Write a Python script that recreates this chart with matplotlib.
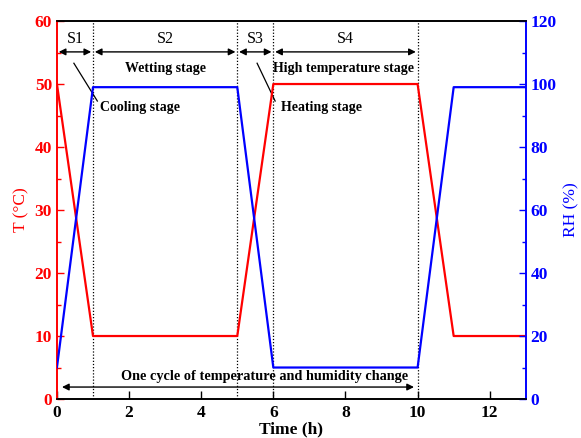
import matplotlib
matplotlib.use("Agg")
import matplotlib.pyplot as plt

time_h = [0, 1, 5, 6, 10, 11, 13]
temp_c = [50, 10, 10, 50, 50, 10, 10]
rh_pct = [10, 99, 99, 10, 10, 99, 99]
stage_bounds = [1, 5, 6, 10]
stage_names = ["S1", "S2", "S3", "S4"]
stage_edges = [0, 1, 5, 6, 10]

plt.rcParams['font.family'] = ['Liberation Serif', 'DejaVu Serif']

fig = plt.figure(figsize=(5.81, 4.38), dpi=100)
ax = fig.add_axes([0.098, 0.089, 0.807, 0.863])
ax2 = ax.twinx()

red = '#ff0000'
blue = '#0000ff'

ax.plot(time_h, temp_c, color=red, lw=1.6, zorder=3)
ax2.plot(time_h, rh_pct, color=blue, lw=1.6, zorder=3)

ax.set_xlim(0, 13)
ax.set_ylim(0, 60)
ax2.set_ylim(0, 120)

for xb in stage_bounds:
    ax.axvline(xb, color='black', ls=(0, (1, 1.5)), lw=0.9, zorder=2)

ax.set_xticks([0, 2, 4, 6, 8, 10, 12])
ax.set_yticks([0, 10, 20, 30, 40, 50, 60])
ax.set_yticks([5, 15, 25, 35, 45, 55], minor=True)
ax2.set_yticks([0, 20, 40, 60, 80, 100, 120])
ax2.set_yticks([10, 30, 50, 70, 90, 110], minor=True)

ax.tick_params(axis='x', direction='in', length=5.5, width=1, labelsize=12.5, pad=4.5)
ax.tick_params(axis='y', which='major', direction='in', length=5, width=1, colors=red, labelsize=12.5)
ax.tick_params(axis='y', which='minor', direction='in', length=3, width=1, colors=red)
ax2.tick_params(axis='y', which='major', direction='in', length=5, width=1, colors=blue, labelsize=12.5)
ax2.tick_params(axis='y', which='minor', direction='in', length=3, width=1, colors=blue)
for lab in ax.get_xticklabels() + ax.get_yticklabels() + ax2.get_yticklabels():
    lab.set_fontweight('bold')

ax2.spines['left'].set_color(red)
ax2.spines['right'].set_color(blue)
ax.spines['left'].set_color(red)
ax.spines['right'].set_color(blue)
for a in (ax, ax2):
    for s in a.spines.values():
        s.set_linewidth(1.2)

ax.set_xlabel('Time (h)', fontsize=12.5, fontweight='bold', labelpad=0)
ax.set_ylabel('T (°C)', fontsize=12.5, color=red, labelpad=4)
ax2.set_ylabel('RH (%)', fontsize=12.5, color=blue, labelpad=5)

# stage arrows
arrow_y = 55.1
for i, name in enumerate(stage_names):
    x0, x1 = stage_edges[i], stage_edges[i + 1]
    ax.annotate('', xy=(x1 - 0.05, arrow_y), xytext=(x0 + 0.05, arrow_y),
                arrowprops=dict(arrowstyle='<|-|>', color='black', lw=1.0,
                                mutation_scale=10, shrinkA=0, shrinkB=0))
    ax.text((x0 + x1) / 2, 57.2, name, ha='center', va='center', fontsize=11.5)

ax.text(3, 52.4, 'Wetting stage', ha='center', va='center', fontsize=10, fontweight='bold')
ax.text(7.95, 52.4, 'High temperature stage', ha='center', va='center', fontsize=10, fontweight='bold')

ax.plot([0.47, 1.12], [53.3, 47.3], color='black', lw=0.9)
ax.text(1.2, 46.3, 'Cooling stage', ha='left', va='center', fontsize=10, fontweight='bold')
ax.plot([5.55, 6.05], [53.3, 47.3], color='black', lw=0.9)
ax.text(6.2, 46.3, 'Heating stage', ha='left', va='center', fontsize=10, fontweight='bold')

ax.annotate('', xy=(9.9, 1.9), xytext=(0.14, 1.9),
            arrowprops=dict(arrowstyle='<|-|>', color='black', lw=1.0,
                            mutation_scale=10, shrinkA=0, shrinkB=0))
ax.text(5.75, 3.5, 'One cycle of temperature and humidity change', ha='center', va='center',
        fontsize=10.3, fontweight='bold')

fig.savefig('out.png', dpi=100)
